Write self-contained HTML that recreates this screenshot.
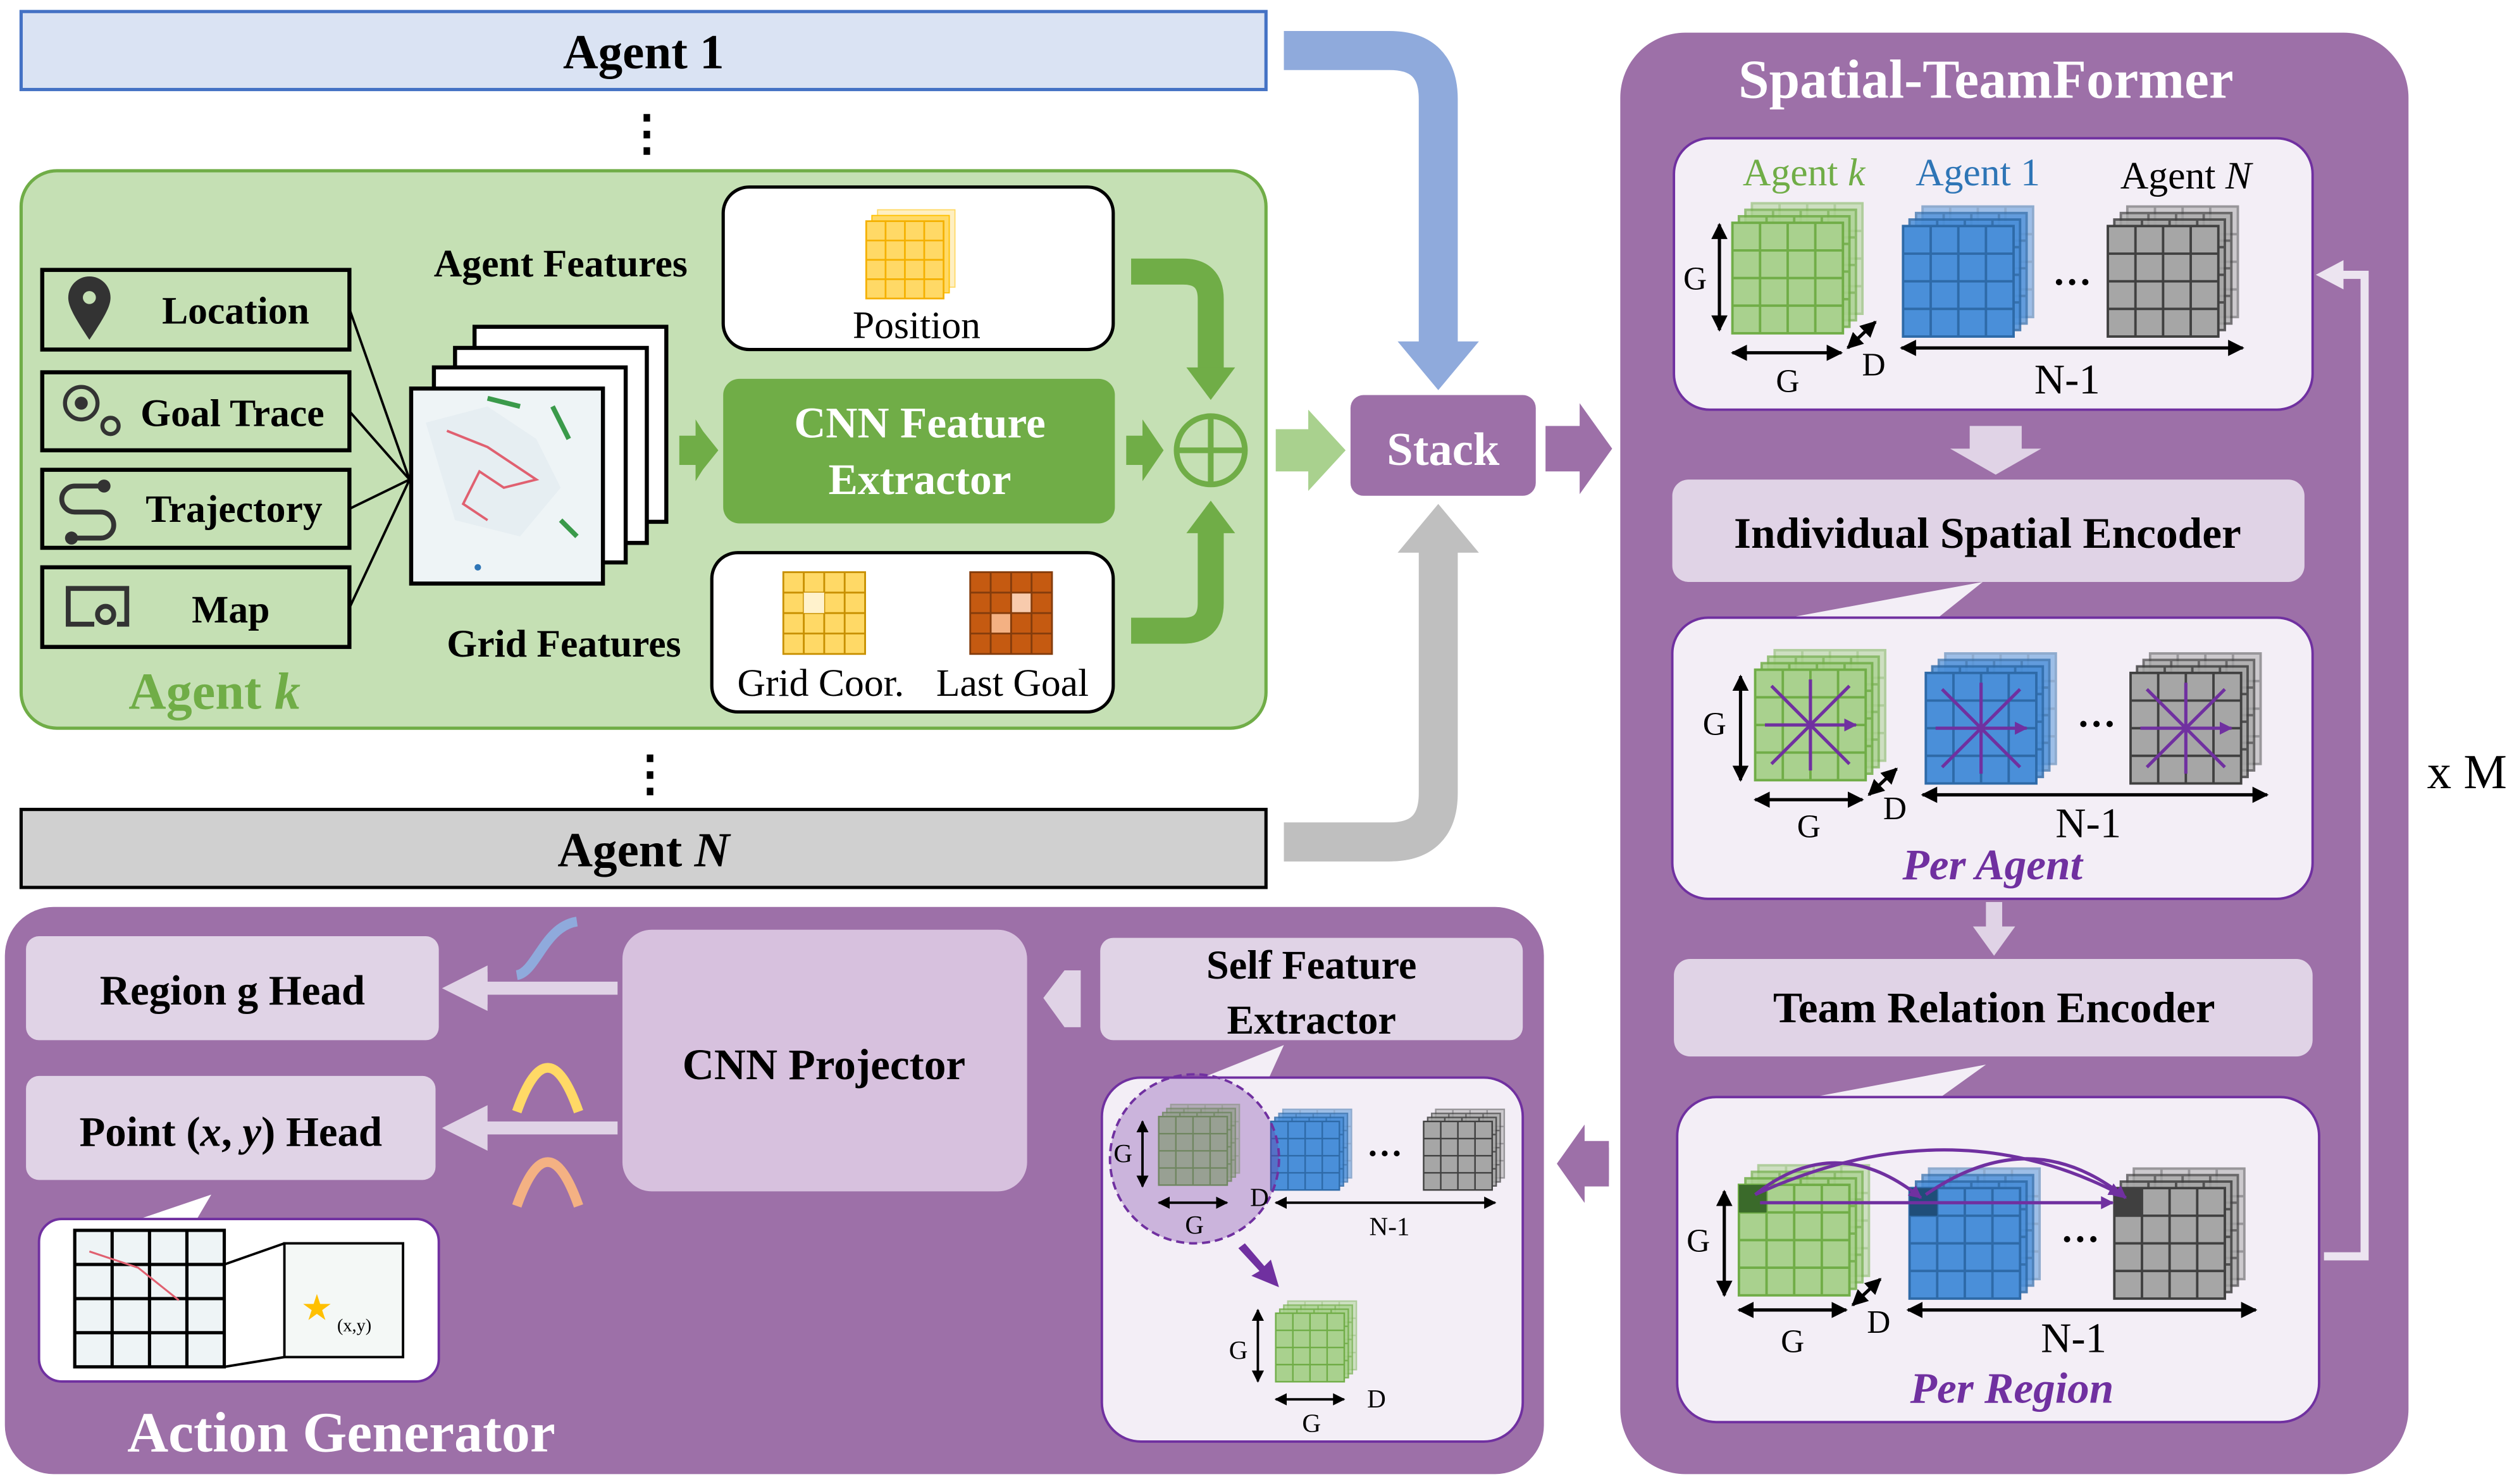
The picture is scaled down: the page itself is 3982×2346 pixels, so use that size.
<!DOCTYPE html>
<html><head><meta charset="utf-8"><style>
html,body{margin:0;padding:0;background:#fff}
svg{display:block}
text{font-family:"Liberation Serif",serif}
.b{font-weight:bold}
</style></head><body>
<svg width="3982" height="2346" viewBox="0 0 1550 913" xmlns="http://www.w3.org/2000/svg">
<defs>
<g id="cellsG">
 <rect x="0" y="0" width="68" height="68" fill="#a9d18e" stroke="#70ad47" stroke-width="1.5"/>
 <path d="M17 0V68M34 0V68M51 0V68M0 17H68M0 34H68M0 51H68" stroke="#70ad47" stroke-width="1.5"/>
</g>
<g id="cellsB">
 <rect x="0" y="0" width="68" height="68" fill="#4a8fd9" stroke="#2e6aa8" stroke-width="1.5"/>
 <path d="M17 0V68M34 0V68M51 0V68M0 17H68M0 34H68M0 51H68" stroke="#2e6aa8" stroke-width="1.5"/>
</g>
<g id="cellsK">
 <rect x="0" y="0" width="68" height="68" fill="#a6a6a6" stroke="#404040" stroke-width="1.5"/>
 <path d="M17 0V68M34 0V68M51 0V68M0 17H68M0 34H68M0 51H68" stroke="#404040" stroke-width="1.5"/>
</g>
<g id="gG"><use href="#cellsG" x="12" y="-12" opacity="0.5"/><use href="#cellsG" x="8" y="-8" opacity="0.7"/><use href="#cellsG" x="4" y="-4" opacity="0.85"/><use href="#cellsG"/></g>
<g id="gB"><use href="#cellsB" x="12" y="-12" opacity="0.5"/><use href="#cellsB" x="8" y="-8" opacity="0.7"/><use href="#cellsB" x="4" y="-4" opacity="0.85"/><use href="#cellsB"/></g>
<g id="gK"><use href="#cellsK" x="12" y="-12" opacity="0.5"/><use href="#cellsK" x="8" y="-8" opacity="0.7"/><use href="#cellsK" x="4" y="-4" opacity="0.85"/><use href="#cellsK"/></g>
<marker id="ah" viewBox="0 0 10 10" refX="9" refY="5" markerWidth="5" markerHeight="5" orient="auto-start-reverse"><path d="M0 0L10 5L0 10z" fill="#000"/></marker>
<marker id="ap" viewBox="0 0 10 10" refX="9" refY="5" markerWidth="4" markerHeight="4" orient="auto-start-reverse"><path d="M0 0L10 5L0 10z" fill="#7030a0"/></marker>
</defs>

<!-- Agent 1 -->
<rect x="13" y="7" width="766" height="48" fill="#dae3f3" stroke="#4472c4" stroke-width="2"/>
<text x="396" y="42" font-size="30" text-anchor="middle" class="b">Agent 1</text>
<text x="398" y="92" font-size="30" text-anchor="middle" class="b">⋮</text>

<!-- blue arrow -->
<path d="M790 31H855Q885 31 885 61V212" fill="none" stroke="#8faadc" stroke-width="24"/>
<path d="M860 210H910L885 240z" fill="#8faadc"/>
<!-- gray arrow -->
<path d="M790 518H855Q885 518 885 488V338" fill="none" stroke="#bfbfbf" stroke-width="24"/>
<path d="M860 340H910L885 310z" fill="#bfbfbf"/>

<!-- green panel -->
<rect x="13" y="105" width="766" height="343" rx="22" fill="#c5e0b4" stroke="#70ad47" stroke-width="2"/>
<g stroke="#000" stroke-width="2.5" fill="#c5e0b4">
<rect x="26" y="166" width="189" height="49"/>
<rect x="26" y="229" width="189" height="48"/>
<rect x="26" y="289" width="189" height="48"/>
<rect x="26" y="349" width="189" height="49"/>
</g>
<text x="145" y="199" font-size="24" text-anchor="middle" class="b">Location</text>
<text x="143" y="262" font-size="24" text-anchor="middle" class="b">Goal Trace</text>
<text x="144" y="321" font-size="24" text-anchor="middle" class="b">Trajectory</text>
<text x="142" y="383" font-size="24" text-anchor="middle" class="b">Map</text>
<!-- icons -->
<path d="M55 209C45 194 42 188 42 183A13 13 0 0 1 68 183C68 188 65 194 55 209z" fill="#333"/>
<circle cx="55" cy="183" r="4" fill="#c5e0b4"/>
<circle cx="50" cy="248" r="10" fill="none" stroke="#333" stroke-width="2.5"/><circle cx="50" cy="248" r="4" fill="#333"/><circle cx="68" cy="262" r="5" fill="none" stroke="#333" stroke-width="2.5"/>
<path d="M62 299H46A8 8 0 0 0 46 315H62A8 8 0 0 1 62 331H46" fill="none" stroke="#333" stroke-width="3"/><circle cx="64" cy="299" r="4" fill="#333"/><circle cx="44" cy="331" r="4" fill="#333"/>
<path d="M58 384H42V362H78V384H72" fill="none" stroke="#333" stroke-width="3"/><circle cx="65" cy="378" r="5" fill="none" stroke="#333" stroke-width="3"/>
<g stroke="#000" stroke-width="1.5"><path d="M215 190L252 295M215 253L252 295M215 313L252 295M215 374L252 295"/></g>
<text x="345" y="170" font-size="24" text-anchor="middle" class="b">Agent Features</text>
<text x="347" y="404" font-size="24" text-anchor="middle" class="b">Grid Features</text>
<text x="132" y="436" font-size="32" text-anchor="middle" class="b" fill="#70ad47">Agent <tspan font-style="italic">k</tspan></text>
<!-- map stack -->
<g stroke="#000" stroke-width="2.5" fill="#fff">
<rect x="292" y="201" width="118" height="120"/>
<rect x="280" y="214" width="118" height="120"/>
<rect x="267" y="226" width="118" height="120"/>
<rect x="253" y="239" width="118" height="120" fill="#eef4f6"/>
</g>
<path d="M262 260L300 250L330 270L345 300L320 330L280 320Z" fill="#e6eef2"/>
<path d="M275 265L300 275L330 295L310 300L295 290L285 310L300 320" fill="none" stroke="#e06070" stroke-width="1.5"/>
<path d="M340 250L350 270M300 245L320 250M345 320L355 330" stroke="#3a9a4a" stroke-width="3"/>
<circle cx="294" cy="349" r="2" fill="#2e75b6"/>
<!-- arrows green -->
<path d="M417 277H430V262L442 277L430 292V277" fill="#70ad47"/>
<path d="M418 268H428V258L440 277L428 296V286H418z" fill="#70ad47"/>
<!-- position box -->
<rect x="445" y="115" width="240" height="100" rx="16" fill="#fff" stroke="#000" stroke-width="2"/>
<g transform="translate(533 136) scale(0.7)"><g opacity="0.6"><rect x="10" y="-10" width="68" height="68" fill="#ffe699" stroke="#ffc000"/></g><rect x="5" y="-5" width="68" height="68" fill="#ffd966" stroke="#ffc000"/><rect width="68" height="68" fill="#ffd966" stroke="#f4b000" stroke-width="1.5"/><path d="M17 0V68M34 0V68M51 0V68M0 17H68M0 34H68M0 51H68" stroke="#f4b000" stroke-width="1.5"/></g>
<text x="564" y="208" font-size="24" text-anchor="middle">Position</text>
<!-- CNN feature -->
<rect x="445" y="233" width="241" height="89" rx="10" fill="#70ad47"/>
<text x="566" y="269" font-size="27" text-anchor="middle" class="b" fill="#fff">CNN Feature</text>
<text x="566" y="304" font-size="27" text-anchor="middle" class="b" fill="#fff">Extractor</text>
<!-- grid box -->
<rect x="438" y="340" width="247" height="98" rx="16" fill="#fff" stroke="#000" stroke-width="2"/>
<g transform="translate(482 352) scale(0.74)"><rect width="68" height="68" fill="#ffd966" stroke="#c89000" stroke-width="1.5"/><path d="M17 0V68M34 0V68M51 0V68M0 17H68M0 34H68M0 51H68" stroke="#c89000" stroke-width="1.5"/><rect x="17" y="17" width="17" height="17" fill="#fff2cc"/></g>
<g transform="translate(597 352) scale(0.74)"><rect width="68" height="68" fill="#c55a11" stroke="#843c0c" stroke-width="1.5"/><rect x="34" y="17" width="17" height="17" fill="#f8cbad"/><rect x="17" y="34" width="17" height="17" fill="#f4b183"/><path d="M17 0V68M34 0V68M51 0V68M0 17H68M0 34H68M0 51H68" stroke="#843c0c" stroke-width="1.5"/></g>
<text x="505" y="428" font-size="24" text-anchor="middle">Grid Coor.</text>
<text x="623" y="428" font-size="24" text-anchor="middle">Last Goal</text>
<!-- elbow arrows -->
<path d="M696 167H728Q745 167 745 184V230" fill="none" stroke="#70ad47" stroke-width="16"/>
<path d="M730 226H760L745 246z" fill="#70ad47"/>
<path d="M696 388H728Q745 388 745 371V324" fill="none" stroke="#70ad47" stroke-width="16"/>
<path d="M730 328H760L745 308z" fill="#70ad47"/>
<path d="M693 268H703V258L716 277L703 296V286H693z" fill="#70ad47"/>
<circle cx="745" cy="277" r="21" fill="none" stroke="#70ad47" stroke-width="3.5"/>
<path d="M724 277H766M745 256V298" stroke="#70ad47" stroke-width="3.5"/>
<!-- to stack -->
<path d="M785 264H805V252L828 277L805 302V290H785z" fill="#a9d18e"/>
<rect x="831" y="243" width="114" height="62" rx="8" fill="#9d70a8"/>
<text x="888" y="286" font-size="29" text-anchor="middle" class="b" fill="#fff">Stack</text>
<path d="M951 262H972V248L992 276L972 304V290H951z" fill="#9d70a8"/>

<!-- Agent N -->
<text x="400" y="486" font-size="30" text-anchor="middle" class="b">⋮</text>
<rect x="13" y="498" width="766" height="48" fill="#d0d0d0" stroke="#000" stroke-width="2"/>
<text x="396" y="533" font-size="30" text-anchor="middle" class="b">Agent <tspan font-style="italic">N</tspan></text>

<!-- Right panel -->
<rect x="997" y="20" width="485" height="887" rx="40" fill="#9d70a8"/>
<text x="1222" y="60" font-size="34" text-anchor="middle" class="b" fill="#fff">Spatial-TeamFormer</text>
<rect x="1030" y="85" width="393" height="167" rx="22" fill="#f3eef6" stroke="#7030a0" stroke-width="1.5"/>
<text x="1110" y="114" font-size="24" text-anchor="middle" fill="#70ad47">Agent <tspan font-style="italic">k</tspan></text>
<text x="1217" y="114" font-size="24" text-anchor="middle" fill="#2e75b6">Agent 1</text>
<text x="1345" y="116" font-size="24" text-anchor="middle">Agent <tspan font-style="italic">N</tspan></text>
<use href="#gG" x="1066" y="137"/><use href="#gB" x="1171" y="139"/><use href="#gK" x="1297" y="139"/>
<text x="1275" y="175" font-size="24" text-anchor="middle" class="b">…</text>
<path d="M1058 138V203" stroke="#000" stroke-width="2" marker-start="url(#ah)" marker-end="url(#ah)"/>
<text x="1043" y="178" font-size="20" text-anchor="middle">G</text>
<path d="M1066 217H1133" stroke="#000" stroke-width="2" marker-start="url(#ah)" marker-end="url(#ah)"/>
<text x="1100" y="241" font-size="20" text-anchor="middle">G</text>
<path d="M1137 214L1154 198" stroke="#000" stroke-width="2" marker-start="url(#ah)" marker-end="url(#ah)"/>
<text x="1153" y="231" font-size="20" text-anchor="middle">D</text>
<path d="M1170 214H1380" stroke="#000" stroke-width="2" marker-start="url(#ah)" marker-end="url(#ah)"/>
<text x="1272" y="242" font-size="26" text-anchor="middle">N-1</text>
<path d="M1212 262H1244V276H1256L1228 292L1200 276H1212z" fill="#e0d3e6"/>
<rect x="1029" y="295" width="389" height="63" rx="10" fill="#e0d3e6"/>
<text x="1223" y="337" font-size="27" text-anchor="middle" class="b">Individual Spatial Encoder</text>
<path d="M1090 382L1220 358L1190 382z" fill="#f3eef6"/>
<rect x="1029" y="380" width="394" height="173" rx="22" fill="#f3eef6" stroke="#7030a0" stroke-width="1.5"/>
<use href="#gG" x="1080" y="412"/><use href="#gB" x="1185" y="414"/><use href="#gK" x="1311" y="414"/>
<g stroke="#7030a0" stroke-width="2" marker-end="url(#ap)">
<path d="M1114 446L1090 422M1114 446L1138 422M1114 446L1090 470M1114 446L1138 470M1114 446L1114 418M1114 446L1114 474M1114 446L1086 446M1114 446L1142 446"/>
<path d="M1219 448L1195 424M1219 448L1243 424M1219 448L1195 472M1219 448L1243 472M1219 448L1219 420M1219 448L1219 476M1219 448L1191 448M1219 448L1247 448"/>
<path d="M1345 448L1321 424M1345 448L1369 424M1345 448L1321 472M1345 448L1369 472M1345 448L1345 420M1345 448L1345 476M1345 448L1317 448M1345 448L1373 448"/>
</g>
<text x="1290" y="447" font-size="24" text-anchor="middle" class="b">…</text>
<path d="M1071 416V480" stroke="#000" stroke-width="2" marker-start="url(#ah)" marker-end="url(#ah)"/>
<text x="1055" y="452" font-size="20" text-anchor="middle">G</text>
<path d="M1080 492H1146" stroke="#000" stroke-width="2" marker-start="url(#ah)" marker-end="url(#ah)"/>
<text x="1113" y="515" font-size="20" text-anchor="middle">G</text>
<path d="M1150 489L1167 473" stroke="#000" stroke-width="2" marker-start="url(#ah)" marker-end="url(#ah)"/>
<text x="1166" y="504" font-size="20" text-anchor="middle">D</text>
<path d="M1183 489H1395" stroke="#000" stroke-width="2" marker-start="url(#ah)" marker-end="url(#ah)"/>
<text x="1285" y="515" font-size="26" text-anchor="middle">N-1</text>
<text x="1226" y="541" font-size="27" text-anchor="middle" font-style="italic" class="b" fill="#7030a0">Per Agent</text>
<path d="M1222 555H1232V570H1240L1227 588L1214 570H1222z" fill="#e0d3e6"/>
<rect x="1030" y="590" width="393" height="60" rx="10" fill="#e0d3e6"/>
<text x="1227" y="629" font-size="27" text-anchor="middle" class="b">Team Relation Encoder</text>
<path d="M1100 678L1222 655L1190 678z" fill="#f3eef6"/>
<rect x="1032" y="675" width="395" height="200" rx="24" fill="#f3eef6" stroke="#7030a0" stroke-width="1.5"/>
<use href="#gG" x="1070" y="729"/><use href="#gB" x="1175" y="731"/><use href="#gK" x="1301" y="731"/>
<rect x="1070" y="729" width="17" height="17" fill="#3a6a2a"/><rect x="1175" y="731" width="17" height="17" fill="#1f4e79"/><rect x="1301" y="731" width="17" height="17" fill="#404040"/>
<g fill="none" stroke="#7030a0" stroke-width="2" marker-end="url(#ap)">
<path d="M1080 735Q1130 695 1182 737"/><path d="M1185 735Q1250 690 1308 737"/><path d="M1080 735Q1200 680 1305 735"/><path d="M1083 740H1300"/>
</g>
<text x="1280" y="764" font-size="24" text-anchor="middle" class="b">…</text>
<path d="M1061 733V797" stroke="#000" stroke-width="2" marker-start="url(#ah)" marker-end="url(#ah)"/>
<text x="1045" y="770" font-size="20" text-anchor="middle">G</text>
<path d="M1070 806H1136" stroke="#000" stroke-width="2" marker-start="url(#ah)" marker-end="url(#ah)"/>
<text x="1103" y="832" font-size="20" text-anchor="middle">G</text>
<path d="M1140 803L1157 787" stroke="#000" stroke-width="2" marker-start="url(#ah)" marker-end="url(#ah)"/>
<text x="1156" y="820" font-size="20" text-anchor="middle">D</text>
<path d="M1174 806H1388" stroke="#000" stroke-width="2" marker-start="url(#ah)" marker-end="url(#ah)"/>
<text x="1276" y="832" font-size="26" text-anchor="middle">N-1</text>
<text x="1238" y="863" font-size="27" text-anchor="middle" font-style="italic" class="b" fill="#7030a0">Per Region</text>
<!-- loop -->
<path d="M1430 773H1455V169H1440" fill="none" stroke="#ece4f0" stroke-width="5"/>
<path d="M1442 160L1425 169L1442 178z" fill="#ece4f0"/>
<text x="1518" y="485" font-size="30" text-anchor="middle">x M</text>

<!-- Action generator -->
<path d="M990 702V730H975V740L958 716L975 692V702z" fill="#9d70a8"/>
<path d="M990 706H975V692L958 716L975 740V726H990z" fill="#9d70a8"/>
<rect x="3" y="558" width="947" height="349" rx="30" fill="#9d70a8"/>
<rect x="16" y="576" width="254" height="64" rx="8" fill="#e0d3e6"/>
<text x="143" y="618" font-size="26" text-anchor="middle" class="b">Region g Head</text>
<rect x="16" y="662" width="252" height="64" rx="8" fill="#e0d3e6"/>
<text x="142" y="705" font-size="26" text-anchor="middle" class="b">Point (<tspan font-style="italic">x</tspan>, <tspan font-style="italic">y</tspan>) Head</text>
<rect x="383" y="572" width="249" height="161" rx="18" fill="#d7c1de"/>
<text x="507" y="664" font-size="27" text-anchor="middle" class="b">CNN Projector</text>
<path d="M383 608H300V598L274 608L300 618V608" fill="#e0d3e6"/>
<path d="M380 604H300V594L272 608L300 622V612H380z" fill="#e0d3e6"/>
<path d="M380 690H300V680L272 694L300 708V698H380z" fill="#e0d3e6"/>
<path d="M318 600C330 598 335 570 355 567" fill="none" stroke="#8faadc" stroke-width="6"/>
<path d="M318 684Q337 630 356 684" fill="none" stroke="#ffd966" stroke-width="6"/>
<path d="M318 742Q337 688 356 742" fill="none" stroke="#f4b183" stroke-width="6"/>
<path d="M665 597V632H655L642 614L655 597z" fill="#e0d3e6"/>
<rect x="677" y="577" width="260" height="63" rx="8" fill="#e0d3e6"/>
<text x="807" y="602" font-size="25" text-anchor="middle" class="b">Self Feature</text>
<text x="807" y="636" font-size="25" text-anchor="middle" class="b">Extractor</text>
<path d="M735 665L790 643L780 665z" fill="#f3eef6"/>
<rect x="678" y="663" width="259" height="224" rx="24" fill="#f3eef6" stroke="#7030a0" stroke-width="1.5"/>
<g transform="translate(713 687) scale(0.62)"><use href="#gG"/></g>
<g transform="translate(782 690) scale(0.62)"><use href="#gB"/></g>
<g transform="translate(876 690) scale(0.62)"><use href="#gK"/></g>
<circle cx="735" cy="713" r="52" fill="#7030a0" fill-opacity="0.3" stroke="#7030a0" stroke-width="1.5" stroke-dasharray="5 3"/>
<text x="852" y="711" font-size="22" text-anchor="middle" class="b">…</text>
<path d="M703 690V730" stroke="#000" stroke-width="1.5" marker-start="url(#ah)" marker-end="url(#ah)"/>
<text x="691" y="715" font-size="16" text-anchor="middle">G</text>
<path d="M713 740H755" stroke="#000" stroke-width="1.5" marker-start="url(#ah)" marker-end="url(#ah)"/>
<text x="735" y="759" font-size="16" text-anchor="middle">G</text>
<text x="775" y="742" font-size="16" text-anchor="middle">D</text>
<path d="M785 740H920" stroke="#000" stroke-width="1.5" marker-start="url(#ah)" marker-end="url(#ah)"/>
<text x="855" y="760" font-size="16" text-anchor="middle">N-1</text>
<path d="M762 768L775 782L770 785L787 792L782 775L778 779L766 765z" fill="#7030a0"/>
<g transform="translate(785 808) scale(0.62)"><use href="#gG"/></g>
<path d="M774 806V850" stroke="#000" stroke-width="1.5" marker-start="url(#ah)" marker-end="url(#ah)"/>
<text x="762" y="836" font-size="16" text-anchor="middle">G</text>
<path d="M785 861H827" stroke="#000" stroke-width="1.5" marker-start="url(#ah)" marker-end="url(#ah)"/>
<text x="807" y="881" font-size="16" text-anchor="middle">G</text>
<text x="847" y="866" font-size="16" text-anchor="middle">D</text>
<!-- map box -->
<path d="M80 752L130 735L120 752z" fill="#fff"/>
<rect x="24" y="750" width="246" height="100" rx="14" fill="#fff" stroke="#7030a0" stroke-width="1.5"/>
<rect x="46" y="757" width="92" height="84" fill="#eef4f6" stroke="#000" stroke-width="2"/>
<path d="M69 757V841M92 757V841M115 757V841M46 778H138M46 799H138M46 820H138" stroke="#000" stroke-width="2"/>
<path d="M55 770L85 780L110 800" fill="none" stroke="#e06070" stroke-width="1.2"/>
<rect x="175" y="765" width="73" height="70" fill="#f4f8f6" stroke="#000" stroke-width="1.5"/>
<path d="M138 778L175 765M138 841L175 835" stroke="#000" stroke-width="1.5"/>
<text x="195" y="812" font-size="22" text-anchor="middle" fill="#ffc000">★</text>
<text x="218" y="819" font-size="11" text-anchor="middle">(x,y)</text>
<text x="210" y="893" font-size="35" text-anchor="middle" class="b" fill="#fff">Action Generator</text>
</svg>
</body></html>
